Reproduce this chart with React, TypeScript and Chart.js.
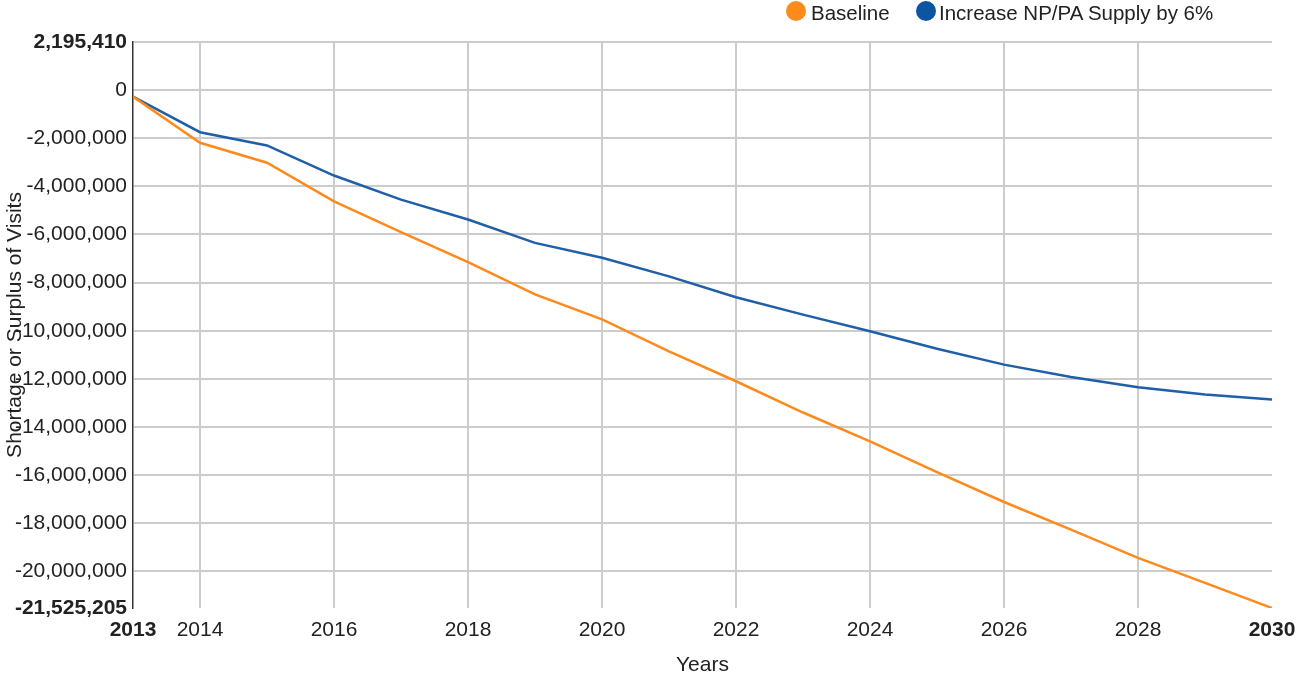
import React, { useEffect, useRef } from "react";
import { Chart, registerables } from "chart.js";

Chart.register(...registerables);

const YEARS = [2013, 2014, 2015, 2016, 2017, 2018, 2019, 2020, 2021, 2022, 2023, 2024, 2025, 2026, 2027, 2028, 2029, 2030];
const BASELINE = [-270000, -2190000, -3020000, -4620000, -5900000, -7150000, -8490000, -9530000, -10860000, -12100000, -13400000, -14600000, -15880000, -17120000, -18270000, -19440000, -20480000, -21525205];
const INCREASE_6 = [-270000, -1750000, -2300000, -3550000, -4550000, -5380000, -6350000, -6970000, -7740000, -8610000, -9330000, -10020000, -10750000, -11410000, -11920000, -12350000, -12650000, -12860000];
const YEAR_TICKS = [2013, 2014, 2016, 2018, 2020, 2022, 2024, 2026, 2028, 2030];
const Y_MIN = -21525205;
const Y_TOP = 2000000;
const Y_TOP_LABEL = "2,195,410";
const Y_TICKS = [Y_MIN, -20000000, -18000000, -16000000, -14000000, -12000000, -10000000, -8000000, -6000000, -4000000, -2000000, 0, Y_TOP];
const SERIES_NAMES = ["Baseline", "Increase NP/PA Supply by 6%"];
const COLORS = ["#ff8a1c", "#1f5fa8"];
const LEGEND_COLORS = ["#ff8a1c", "#0b55a3"];

const FONT = '"Liberation Sans", Arial, sans-serif';

export default function App() {
  const ref = useRef<HTMLCanvasElement | null>(null);

  useEffect(() => {
    if (!ref.current) return;
    Chart.defaults.font.family = FONT;
    Chart.defaults.color = "#222";
    const chart = new Chart(ref.current, {
      type: "line",
      data: {
        datasets: [
          {
            label: SERIES_NAMES[0],
            data: YEARS.map((y, i) => ({ x: y, y: BASELINE[i] })),
            borderColor: COLORS[0],
            backgroundColor: COLORS[0],
            borderWidth: 2.5,
            pointRadius: 0,
            tension: 0,
          },
          {
            label: SERIES_NAMES[1],
            data: YEARS.map((y, i) => ({ x: y, y: INCREASE_6[i] })),
            borderColor: COLORS[1],
            backgroundColor: COLORS[1],
            borderWidth: 2.5,
            pointRadius: 0,
            tension: 0,
          },
        ],
      },
      options: {
        animation: false,
        responsive: false,
        maintainAspectRatio: false,
        layout: { padding: { left: 0, top: 42, right: 27, bottom: 0 } },
        plugins: { legend: { display: false }, tooltip: { enabled: false } },
        scales: {
          x: {
            type: "linear",
            min: 2013,
            max: 2030,
            afterBuildTicks: (s: any) => {
              s.ticks = YEAR_TICKS.map((v) => ({ value: v }));
            },
            afterFit: (s: any) => {
              s.height = 67;
              s.paddingLeft = 0;
              s.paddingRight = 0;
            },
            ticks: {
              padding: 10,
              autoSkip: false,
              maxRotation: 0,
              color: "#222",
              callback: (v: any) => String(v),
              font: (ctx: any) => ({
                size: 21,
                family: FONT,
                weight: ctx.tick && (ctx.tick.value === 2013 || ctx.tick.value === 2030) ? "bold" : "normal",
              }),
            },
            grid: {
              drawTicks: false,
              lineWidth: 2,
              color: (ctx: any) =>
                ctx.tick && (ctx.tick.value === 2013 || ctx.tick.value === 2030) ? "rgba(0,0,0,0)" : "#cccccc",
            },
            border: { display: false },
            title: {
              display: true,
              text: "Years",
              color: "#222",
              font: { size: 21, family: FONT, lineHeight: 0.9 },
              padding: { top: 0, bottom: 0 },
            },
          },
          y: {
            type: "linear",
            min: Y_MIN,
            max: Y_TOP,
            afterBuildTicks: (s: any) => {
              s.ticks = Y_TICKS.map((v) => ({ value: v }));
            },
            afterFit: (s: any) => {
              s.width = 133;
            },
            ticks: {
              padding: 6,
              autoSkip: false,
              color: "#222",
              callback: (v: any) => (v === Y_TOP ? Y_TOP_LABEL : Number(v).toLocaleString("en-US")),
              font: (ctx: any) => ({
                size: 21,
                family: FONT,
                weight: ctx.tick && (ctx.tick.value === Y_MIN || ctx.tick.value === Y_TOP) ? "bold" : "normal",
              }),
            },
            grid: {
              drawTicks: false,
              lineWidth: 2,
              color: (ctx: any) => (ctx.tick && ctx.tick.value === Y_MIN ? "rgba(0,0,0,0)" : "#cccccc"),
            },
            border: { display: true, color: "#333", width: 1.5 },
            title: {
              display: true,
              text: "Shortage or Surplus of Visits",
              color: "#222",
              font: { size: 21, family: FONT, lineHeight: 1.2 },
              padding: { top: 3, bottom: 0 },
            },
          },
        },
      },
    });
    return () => chart.destroy();
  }, []);

  const legendText: React.CSSProperties = {
    position: "absolute",
    top: 1,
    fontFamily: FONT,
    fontSize: 20.5,
    lineHeight: "23px",
    color: "#222",
    whiteSpace: "nowrap",
  };
  const dot = (left: number, color: string): React.CSSProperties => ({
    position: "absolute",
    left,
    top: 1,
    width: 20,
    height: 20,
    borderRadius: "50%",
    background: color,
  });

  return (
    <div style={{ position: "fixed", left: 0, top: 0, width: 1299, height: 675, background: "#fff" }}>
      <canvas ref={ref} width={1299} height={675} style={{ display: "block" }} />
      <div style={dot(786, LEGEND_COLORS[0])} />
      <div style={{ ...legendText, left: 811 }}>{SERIES_NAMES[0]}</div>
      <div style={dot(916, LEGEND_COLORS[1])} />
      <div style={{ ...legendText, left: 939 }}>{SERIES_NAMES[1]}</div>
    </div>
  );
}
